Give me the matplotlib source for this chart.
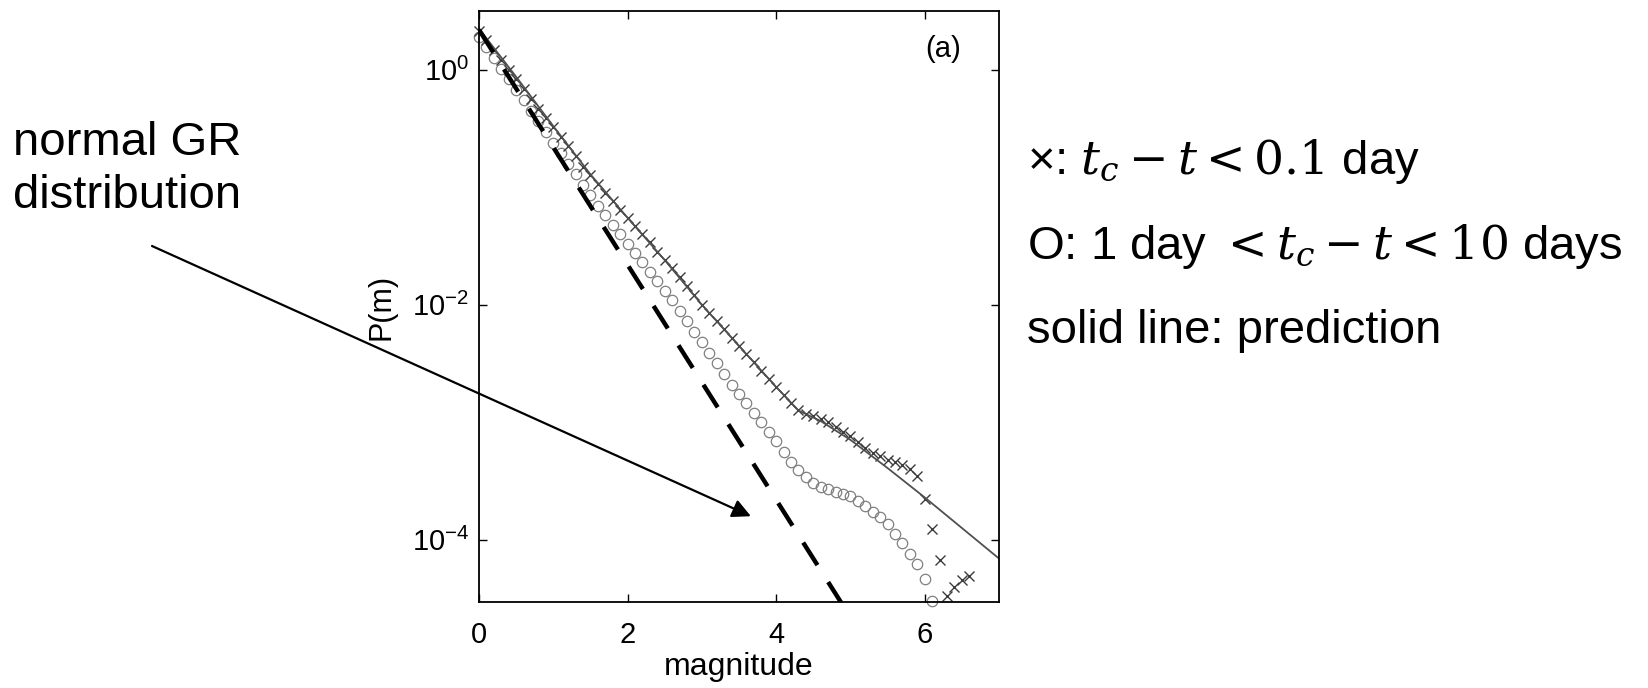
import numpy as np
import matplotlib
matplotlib.use("Agg")
import matplotlib.pyplot as plt
from matplotlib.ticker import NullLocator

plt.rcParams['font.family'] = ['Liberation Sans', 'DejaVu Sans']
plt.rcParams['mathtext.fontset'] = 'dejavuserif'

# magnitude bins (0.1 wide)
mag = [0.0, 0.1, 0.2, 0.3, 0.4, 0.5, 0.6, 0.7, 0.8, 0.9,
       1.0, 1.1, 1.2, 1.3, 1.4, 1.5, 1.6, 1.7, 1.8, 1.9,
       2.0, 2.1, 2.2, 2.3, 2.4, 2.5, 2.6, 2.7, 2.8, 2.9,
       3.0, 3.1, 3.2, 3.3, 3.4, 3.5, 3.6, 3.7, 3.8, 3.9,
       4.0, 4.1, 4.2, 4.3, 4.4, 4.5, 4.6, 4.7, 4.8, 4.9,
       5.0, 5.1, 5.2, 5.3, 5.4, 5.5, 5.6, 5.7, 5.8, 5.9,
       6.0, 6.1]

# log10 P(m), crosses: tc - t < 0.1 day  (bins 0.0 .. 6.0)
logp_cross = [0.33, 0.25, 0.17, 0.08, 0.00, -0.08, -0.16, -0.25, -0.33, -0.41,
              -0.49, -0.57, -0.65, -0.73, -0.83, -0.90, -0.97, -1.05, -1.12, -1.19,
              -1.26, -1.33, -1.40, -1.47, -1.55, -1.62, -1.69, -1.76, -1.84, -1.92,
              -2.00, -2.07, -2.14, -2.21, -2.28, -2.35, -2.42, -2.49, -2.56, -2.63,
              -2.70, -2.77, -2.84, -2.90, -2.93, -2.95, -2.97, -3.00, -3.04, -3.08,
              -3.12, -3.17, -3.22, -3.26, -3.29, -3.32, -3.34, -3.36, -3.40, -3.46,
              -3.65]
mag_cross_tail = [6.1, 6.2, 6.3, 6.4, 6.5, 6.6]
logp_cross_tail = [-3.91, -4.17, -4.48, -4.40, -4.34, -4.31]

# log10 P(m), circles: 1 day < tc - t < 10 days  (bins 0.0 .. 6.1)
logp_circle = [0.28, 0.19, 0.10, 0.01, -0.08, -0.17, -0.26, -0.35, -0.44, -0.53,
               -0.62, -0.71, -0.80, -0.89, -0.98, -1.07, -1.16, -1.24, -1.32, -1.40,
               -1.48, -1.56, -1.64, -1.72, -1.80, -1.88, -1.96, -2.05, -2.14, -2.23,
               -2.32, -2.41, -2.50, -2.59, -2.68, -2.76, -2.84, -2.92, -3.00, -3.08,
               -3.16, -3.25, -3.34, -3.41, -3.47, -3.52, -3.55, -3.57, -3.59, -3.61,
               -3.63, -3.67, -3.71, -3.76, -3.81, -3.87, -3.95, -4.03, -4.12, -4.21,
               -4.33, -4.52]

# prediction (solid line)
mag_pred = [0.0, 0.5, 1.0, 1.5, 2.0, 2.5, 3.0, 3.5, 4.0, 4.3, 4.6, 5.0, 5.5, 6.0, 6.5, 7.0]
logp_pred = [0.35, -0.06, -0.48, -0.89, -1.26, -1.62, -2.00, -2.35, -2.70, -2.90,
             -2.99, -3.15, -3.39, -3.64, -3.90, -4.16]

# normal GR distribution (dashed, b = 1)
mag_gr = [0.0, 5.0]
logp_gr = [0.34, -4.66]

arrow_tip = (3.66, 10 ** -3.80)

fig = plt.figure(figsize=(16.49, 6.88), dpi=100)
ax = fig.add_axes([479 / 1649, 1 - 602 / 688, 520 / 1649, 591 / 688])

ax.semilogy(mag, 10.0 ** np.array(logp_circle), 'o', ms=7.5, mfc='none', mec='#808080',
            mew=0.9, clip_on=False)
ax.semilogy(mag[:61], 10.0 ** np.array(logp_cross), 'x', ms=6.5, mec='#3c3c3c', mew=1.0,
            clip_on=False)
ax.semilogy(mag_cross_tail, 10.0 ** np.array(logp_cross_tail), 'x', ms=6.5, mec='#3c3c3c',
            mew=1.0, clip_on=False)
ax.semilogy(mag_pred, 10.0 ** np.array(logp_pred), '-', color='#505050', lw=1.3)
ax.semilogy(mag_gr, 10.0 ** np.array(logp_gr), '--', color='black', lw=3.2,
            dashes=(6, 4.5))

ax.set_xlim(0, 7)
ax.set_ylim(10 ** -4.53, 10 ** 0.50)
ax.set_xticks([0, 2, 4, 6])
ax.set_yticks([1, 1e-2, 1e-4])
ax.yaxis.set_minor_locator(NullLocator())
ax.tick_params(direction='in', top=True, right=True, length=6, width=1.0, labelsize=21)
ax.tick_params(axis='x', pad=14)
ax.tick_params(axis='y', pad=7)
for s in ax.spines.values():
    s.set_linewidth(1.3)

ax.set_xlabel('magnitude', fontsize=23)
ax.xaxis.set_label_coords(0.5, -0.085)
ax.set_ylabel('P(m)', fontsize=22)
ax.yaxis.set_label_coords(-0.158, 0.5)
ax.text(0.892, 0.936, '(a)', transform=ax.transAxes, fontsize=21, ha='center', va='center')

# annotation arrow
ax.annotate('', xy=arrow_tip, xycoords='data', xytext=(152, 688 - 246),
            textcoords='figure pixels', annotation_clip=False,
            arrowprops=dict(arrowstyle='-|>', color='black', lw=1.6, mutation_scale=28,
                            shrinkA=0, shrinkB=0))

fig.text(13 / 1649, 1 - 155 / 688, 'normal GR', fontsize=34, va='baseline')
fig.text(13 / 1649, 1 - 208 / 688, 'distribution', fontsize=34, va='baseline')

fig.text(1027 / 1649, 1 - 174 / 688, r'×: $t_c - t < 0.1$ day', fontsize=34,
         va='baseline')
fig.text(1027 / 1649, 1 - 259 / 688, r'O: 1 day $< t_c - t < 10$ days', fontsize=34,
         va='baseline')
fig.text(1027 / 1649, 1 - 343 / 688, 'solid line: prediction', fontsize=34, va='baseline')

fig.savefig('out.png', dpi=100)
